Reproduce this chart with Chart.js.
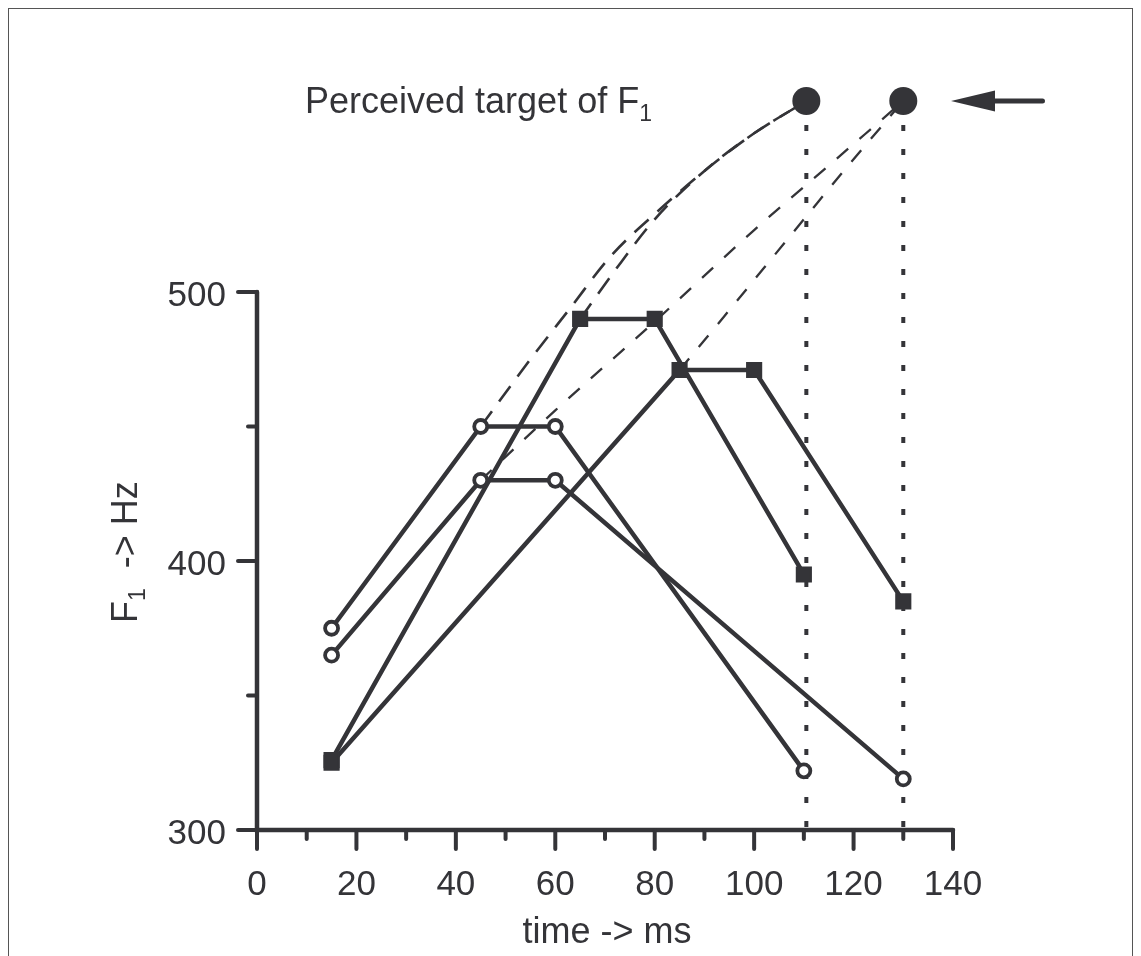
<!DOCTYPE html>
<html><head><meta charset="utf-8">
<script src="https://cdn.jsdelivr.net/npm/chart.js@4/dist/chart.umd.min.js"></script>
<style>
html,body{margin:0;padding:0;background:#fff;}
#wrap{position:relative;width:1141px;height:956px;overflow:hidden;background:#fff;}
#frame{position:absolute;left:8px;top:8px;width:1125px;height:1000px;border:1px solid #555;box-sizing:border-box;pointer-events:none;}
canvas{position:absolute;left:0;top:0;}
</style></head><body>
<div id="wrap"><canvas id="c" width="1141" height="956"></canvas><div id="frame"></div></div>
<script>
// ---- data (time in ms, F1 in Hz) ----
const seriesA_t = [15, 45, 60, 110];
const seriesA_f = [375, 450, 450, 322];
const seriesB_t = [15, 45, 60, 130];
const seriesB_f = [365, 430, 430, 319];
const seriesC_t = [15, 65, 80, 110];
const seriesC_f = [326, 490, 490, 395];
const seriesD_t = [15, 85, 100, 130];
const seriesD_f = [325, 471, 471, 385];
const targetT = [110.5, 130];
const targetF = [571, 571];
const extrapA_t = [45, 55, 63, 71, 80, 90, 100, 110.5];
const extrapA_f = [450, 475, 494, 513, 529, 545, 559, 571];
const extrapC_t = [65, 72, 80, 90, 100, 110.5];
const extrapC_f = [490, 508, 527, 545, 559, 571];
const extrapB_t = [45, 60, 80, 100, 115, 130];
const extrapB_f = [430, 456, 489, 523, 547, 571];
const extrapD_t = [85, 94, 102, 110, 118, 130];
const extrapD_f = [471, 491, 509, 527, 545, 571];
const xTicks = [0, 20, 40, 60, 80, 100, 120, 140];
const xMinorTicks = [10, 30, 50, 70, 90, 110, 130];
const yTicks = [300, 400, 500];
const yMinorTicks = [350, 450];
const arrowT = [158, 139.6];   // tail, tip (ms)
const arrowF = 571;
const titleText = "Perceived target of F";
const xTitle = "time -> ms";
const yTitleMain = "F";
const yTitleRest = "  -> Hz";
const subText = "1";

const INK = '#343438';
const FONT = '"Liberation Sans", Arial, Helvetica, sans-serif';
const pts = (t, f) => t.map((v, i) => ({x: v, y: f[i]}));

const solid = (t, f, circle) => ({
  data: pts(t, f), showLine: true, borderColor: INK, borderWidth: 4.5,
  pointStyle: circle ? 'circle' : 'rect',
  pointRadius: circle ? 6.5 : 10,
  pointBorderWidth: circle ? 3.8 : 2,
  pointBackgroundColor: circle ? '#fff' : INK,
  pointBorderColor: INK, order: 0, clip: false, tension: 0
});
const dashed = (t, f, dash, w) => ({
  data: pts(t, f), showLine: true, borderColor: INK, borderWidth: w,
  borderDash: dash, pointRadius: 0, order: 2, clip: false,
  cubicInterpolationMode: 'monotone'
});
const dotted = (i) => ({
  data: [{x: targetT[i], y: targetF[i]}, {x: targetT[i], y: yTicks[0]}],
  showLine: true, borderColor: INK, borderWidth: 4, borderDash: [6, 18],
  pointRadius: 0, order: 2, clip: false
});

const axesPlugin = {
  id: 'axes',
  beforeDatasetsDraw(chart) {
    const {ctx, scales: {x, y}} = chart;
    const x0 = x.getPixelForValue(xTicks[0]);
    const y0 = y.getPixelForValue(yTicks[0]);
    ctx.save();
    ctx.strokeStyle = INK; ctx.lineWidth = 4.5; ctx.lineCap = 'round';
    ctx.beginPath();
    ctx.moveTo(x0, y.getPixelForValue(yTicks[yTicks.length - 1]));
    ctx.lineTo(x0, y0);
    ctx.lineTo(x.getPixelForValue(xTicks[xTicks.length - 1]), y0);
    ctx.stroke();
    ctx.lineWidth = 4;
    xTicks.forEach(v => { const p = x.getPixelForValue(v); ctx.beginPath(); ctx.moveTo(p, y0); ctx.lineTo(p, y0 + 19); ctx.stroke(); });
    xMinorTicks.forEach(v => { const p = x.getPixelForValue(v); ctx.beginPath(); ctx.moveTo(p, y0); ctx.lineTo(p, y0 + 9); ctx.stroke(); });
    yTicks.forEach(v => { const p = y.getPixelForValue(v); ctx.beginPath(); ctx.moveTo(x0, p); ctx.lineTo(x0 - 19, p); ctx.stroke(); });
    yMinorTicks.forEach(v => { const p = y.getPixelForValue(v); ctx.beginPath(); ctx.moveTo(x0, p); ctx.lineTo(x0 - 9, p); ctx.stroke(); });
    ctx.fillStyle = INK;
    ctx.font = '35px ' + FONT;
    ctx.textAlign = 'center'; ctx.textBaseline = 'alphabetic';
    xTicks.forEach(v => ctx.fillText(String(v), x.getPixelForValue(v), y0 + 65));
    ctx.textAlign = 'right';
    yTicks.forEach(v => ctx.fillText(String(v), x0 - 31, y.getPixelForValue(v) + 14));
    ctx.restore();
  },
  afterDraw(chart) {
    const {ctx, scales: {x, y}} = chart;
    const x0 = x.getPixelForValue(xTicks[0]);
    const y0 = y.getPixelForValue(yTicks[0]);
    ctx.save();
    ctx.fillStyle = INK; ctx.strokeStyle = INK;
    // x title
    ctx.font = '36px ' + FONT; ctx.textAlign = 'center'; ctx.textBaseline = 'alphabetic';
    ctx.fillText(xTitle, (x0 + x.getPixelForValue(xTicks[xTicks.length - 1])) / 2 + 2, y0 + 113);
    // y title (rotated)
    ctx.save();
    const yMid = (y0 + y.getPixelForValue(yTicks[yTicks.length - 1])) / 2;
    ctx.translate(137, yMid + 62);
    ctx.rotate(-Math.PI / 2);
    ctx.textAlign = 'left';
    ctx.font = '36px ' + FONT;
    ctx.fillText(yTitleMain, 0, 0);
    let w = ctx.measureText(yTitleMain).width;
    ctx.font = '23px ' + FONT;
    ctx.fillText(subText, w, 8);
    w += ctx.measureText(subText).width;
    ctx.font = '36px ' + FONT;
    ctx.fillText(yTitleRest, w, 0);
    ctx.restore();
    // top label
    ctx.textAlign = 'left';
    ctx.font = '36px ' + FONT;
    const ty = y.getPixelForValue(targetF[0]) + 12;
    ctx.fillText(titleText, 305, ty);
    const tw = ctx.measureText(titleText).width;
    ctx.font = '23px ' + FONT;
    ctx.fillText(subText, 305 + tw, ty + 8);
    // arrow
    const ay = y.getPixelForValue(arrowF);
    const tail = x.getPixelForValue(arrowT[0]);
    const tip = x.getPixelForValue(arrowT[1]);
    ctx.lineWidth = 5; ctx.lineCap = 'round';
    ctx.beginPath(); ctx.moveTo(tail, ay); ctx.lineTo(tip + 35, ay); ctx.stroke();
    ctx.beginPath();
    ctx.moveTo(tip, ay); ctx.lineTo(tip + 44, ay - 10.5); ctx.lineTo(tip + 44, ay + 10.5); ctx.closePath(); ctx.fill();
    ctx.restore();
  }
};

new Chart(document.getElementById('c'), {
  type: 'scatter',
  data: {
    datasets: [
      dashed(extrapA_t, extrapA_f, [19, 12], 2.6),
      dashed(extrapC_t, extrapC_f, [19, 12], 2.6),
      dashed(extrapB_t, extrapB_f, [15, 15], 2.3),
      dashed(extrapD_t, extrapD_f, [15, 15], 2.3),
      dotted(0), dotted(1),
      solid(seriesA_t, seriesA_f, true),
      solid(seriesB_t, seriesB_f, true),
      solid(seriesC_t, seriesC_f, false),
      solid(seriesD_t, seriesD_f, false),
      { data: pts(targetT, targetF), showLine: false, pointRadius: 14, pointBackgroundColor: INK,
        pointBorderColor: INK, pointBorderWidth: 0, order: 0, clip: false }
    ]
  },
  options: {
    responsive: false, animation: false, devicePixelRatio: 1,
    layout: { padding: { left: 257, right: 6, top: 23, bottom: 126 } },
    plugins: { legend: { display: false }, tooltip: { enabled: false } },
    events: [],
    scales: {
      x: { type: 'linear', min: 0, max: 175, display: false },
      y: { type: 'linear', min: 300, max: 600, display: false }
    }
  },
  plugins: [axesPlugin]
});
</script>
</body></html>
